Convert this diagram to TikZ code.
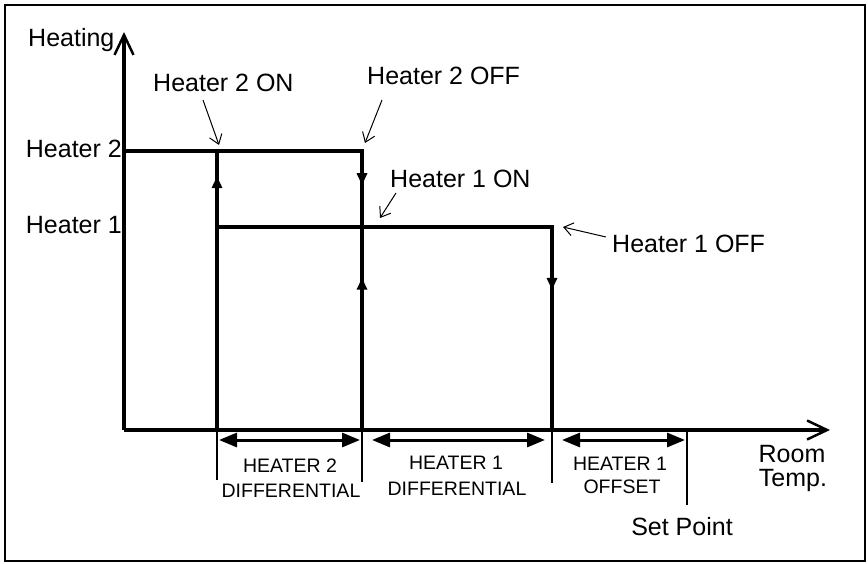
\documentclass[tikz,border=0pt]{standalone}
\usepackage{fontspec}
\setmainfont{Liberation Sans}
\usetikzlibrary{arrows.meta,decorations.markings}

\begin{document}
\begin{tikzpicture}[x=1pt,y=-1pt,
  axisline/.style={line width=3.5pt,-{Straight Barb[length=20pt,width=19pt,line width=2.5pt]}},
  stepline/.style={line width=3.5pt,line cap=rect},
  flowmark/.style={postaction={decorate},decoration={markings,
    mark=at position #1 with {\arrow{Triangle[length=12pt,width=10pt]}}}},
  tickline/.style={line width=2pt},
  spanarrow/.style={line width=3pt,{Triangle[length=18pt,width=14pt]}-{Triangle[length=18pt,width=14pt]}},
  callout/.style={line width=1pt,-{Straight Barb[length=9pt,width=13pt,line width=1pt]}},
  biglabel/.style={inner sep=0pt,font=\fontsize{25}{30}\selectfont},
  smalllabel/.style={inner sep=0pt,font=\fontsize{19.5}{24}\selectfont}]
  \useasboundingbox (0,0) rectangle (868,564);
  \draw[line width=2pt] (5,5) rectangle (865,561);
  % Axes
  \coordinate (O) at (124,430);
  \coordinate (Ytop) at (124,32);
  \coordinate (Xend) at (830,430);
  \draw[axisline] (O)--(Ytop);
  \draw[axisline] (O)--(Xend);
  % Switching points
  \coordinate (H2L) at (124,151);
  \coordinate (A0) at (217,430);
  \coordinate (A1) at (217,227);
  \coordinate (A2) at (217,151);
  \coordinate (B0) at (362,430);
  \coordinate (B1) at (362,227);
  \coordinate (B2) at (362,151);
  \coordinate (C0) at (552,430);
  \coordinate (C1) at (552,227);
  \draw[stepline,flowmark=0.91] (A0)--(A2);
  \draw[stepline] (H2L)--(B2);
  \draw[stepline,flowmark=0.45] (B2)--(B1);
  \draw[stepline,flowmark=0.75] (B0)--(B1);
  \draw[stepline] (A1)--(C1);
  \draw[stepline,flowmark=0.31] (C1)--(C0);
  % Bands under the axis
  \coordinate (SP) at (687,430);
  \coordinate (SPlow) at (687,505);
  \draw[tickline] (217,432)--(217,480);
  \draw[tickline] (362,432)--(362,482);
  \draw[tickline] (552,432)--(552,483);
  \draw[tickline] (SP)--(SPlow);
  \draw[spanarrow] (219,440)--(360,440);
  \draw[spanarrow] (372,440)--(545,440);
  \draw[spanarrow] (562,440)--(685,440);
  % Labels
  \node[biglabel,anchor=base west] (heating) at (28,47) {Heating};
  \node[biglabel,anchor=base east] (lvl2) at (122,158) {Heater 2};
  \node[biglabel,anchor=base east] (lvl1) at (122,234) {Heater 1};
  \node[biglabel,anchor=base west] (h2on) at (153,92) {Heater 2 ON};
  \node[biglabel,anchor=base west] (h2off) at (367,85) {Heater 2 OFF};
  \node[biglabel,anchor=base west] (h1on) at (390,188) {Heater 1 ON};
  \node[biglabel,anchor=base west] (h1off) at (612,253) {Heater 1 OFF};
  \node[smalllabel,anchor=base] (d2a) at (290,472) {HEATER 2};
  \node[smalllabel,anchor=base] (d2b) at (291,497) {DIFFERENTIAL};
  \node[smalllabel,anchor=base] (d1a) at (456,469) {HEATER 1};
  \node[smalllabel,anchor=base] (d1b) at (457,495) {DIFFERENTIAL};
  \node[smalllabel,anchor=base] (offa) at (620,470) {HEATER 1};
  \node[smalllabel,anchor=base] (offb) at (622,493) {OFFSET};
  \node[biglabel,anchor=base] (room) at (792,462) {Room};
  \node[biglabel,anchor=base] (temp) at (793,486) {Temp.};
  \node[biglabel,anchor=base] (setpt) at (682,535) {Set Point};
  % Callouts
  \coordinate (h2onT) at (203,100);
  \coordinate (h2onP) at (219,145);
  \coordinate (h2offT) at (382,100);
  \coordinate (h2offP) at (365,143);
  \coordinate (h1onT) at (396,193);
  \coordinate (h1onP) at (380,218);
  \coordinate (h1offT) at (606,237);
  \coordinate (h1offP) at (563,227);
  \draw[callout] (h2onT)--(h2onP);
  \draw[callout] (h2offT)--(h2offP);
  \draw[callout] (h1onT)--(h1onP);
  \draw[callout] (h1offT)--(h1offP);
\end{tikzpicture}
\end{document}
